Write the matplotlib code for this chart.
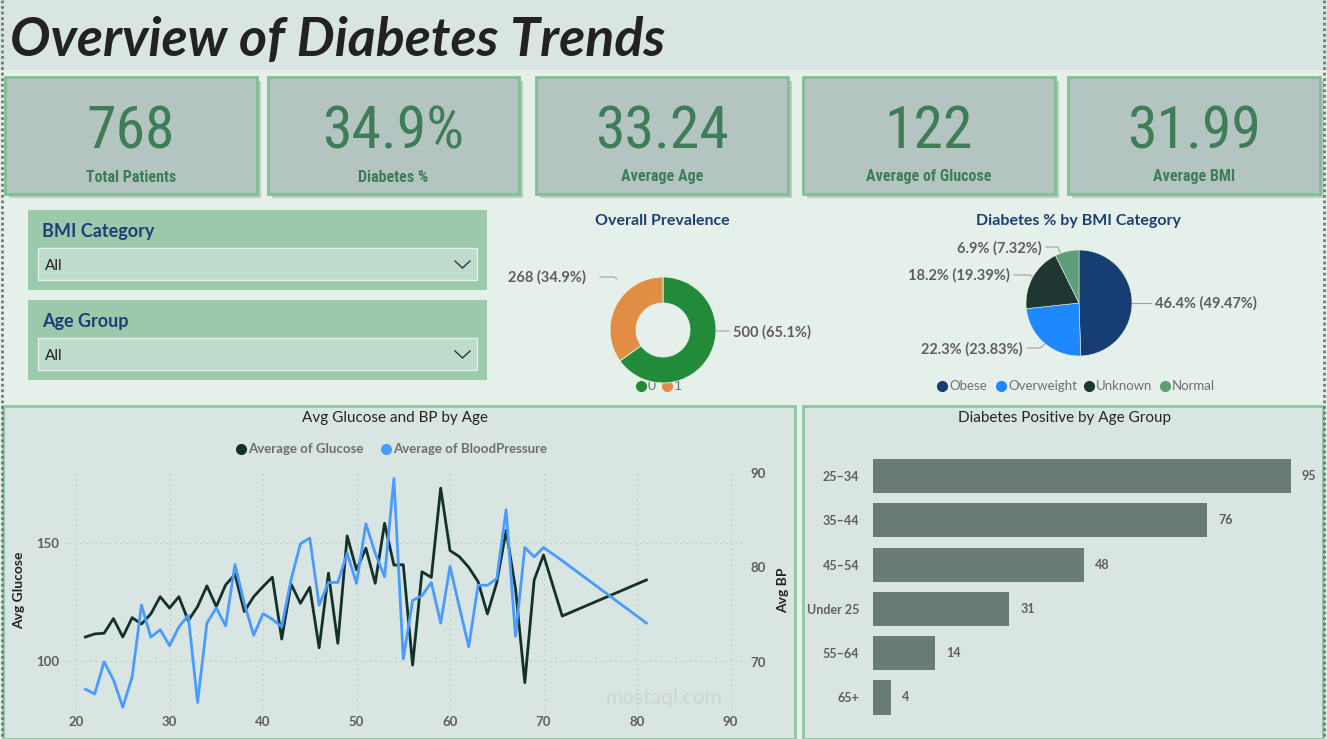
import matplotlib
matplotlib.use("Agg")
import matplotlib.pyplot as plt
from matplotlib import font_manager
from matplotlib.patches import Rectangle

W, H = 1327, 739

# ---- data ----
kpi_values = ["768", "34.9%", "33.24", "122", "31.99"]
kpi_labels = ["Total Patients", "Diabetes %", "Average Age", "Average of Glucose", "Average BMI"]

outcome_labels = ["0", "1"]
outcome_counts = [500, 268]
outcome_texts = ["500 (65.1%)", "268 (34.9%)"]

bmi_cats = ["Obese", "Overweight", "Unknown", "Normal"]
bmi_share = [49.47, 23.83, 19.39, 7.32]
bmi_texts = ["46.4% (49.47%)", "22.3% (23.83%)", "18.2% (19.39%)", "6.9% (7.32%)"]

ages = list(range(21, 71)) + [72, 81]
avg_glucose = [110.2, 111.5, 111.8, 118.0, 110.2, 118.4, 115.7, 120.0, 127.3, 122.5,
               127.3, 117.1, 123.1, 131.9, 123.1, 132.3, 136.8, 121.0, 127.3, 131.6,
               135.6, 109.3, 132.7, 124.5, 131.3, 105.6, 137.3, 107.5, 153.1, 138.7,
               147.9, 133.0, 158.5, 140.7, 140.9, 98.3, 137.9, 135.5, 173.4, 146.9,
               144.3, 139.8, 133.7, 120.0, 133.3, 155.4, 130.9, 90.8, 134.4, 145.0,
               119.1, 134.4]
avg_bp = [67.1, 66.6, 70.0, 68.1, 65.2, 68.4, 76.0, 72.6, 73.4, 71.7,
          73.7, 74.9, 65.7, 74.1, 75.7, 73.8, 80.3, 76.2, 72.8, 75.1,
          74.5, 73.7, 78.7, 82.5, 83.1, 76.0, 78.4, 78.4, 81.5, 78.3,
          84.6, 81.5, 79.0, 89.4, 70.3, 76.5, 77.0, 78.4, 74.1, 80.1,
          75.8, 71.6, 78.1, 78.1, 78.8, 86.1, 72.7, 82.1, 81.1, 82.1,
          80.7, 74.1]

age_groups = ["25\u201334", "35\u201344", "45\u201354", "Under 25", "55\u201364", "65+"]
positives = [95, 76, 48, 31, 14, 4]

# ---- fonts / colours ----
installed = {f.name for f in font_manager.fontManager.ttflist}
def pick(*names):
    for n in names:
        if n in installed:
            return n
    return "DejaVu Sans"

NARROW = pick("Liberation Sans Narrow", "Roboto Condensed", "DejaVu Sans Condensed", "Roboto")
UI = pick("Lato", "Open Sans", "Noto Sans")
TITLE = pick("Lato", "Open Sans")

GREEN_TXT = "#3E7D57"
NAVY = "#1C3F78"
GREY_TXT = "#605E5C"
CARD = "#B4C4C0"
CARD_EDGE = "#7FBF91"
PANEL = "#D9E5E2"

def box(l, t, r, b):
    return [l / W, 1 - b / H, (r - l) / W, (b - t) / H]

fig = plt.figure(figsize=(W / 100, H / 100), dpi=100)
fig.patch.set_facecolor("#E6F0EA")

ov = fig.add_axes([0, 0, 1, 1], zorder=0)
ov.set_xlim(0, W)
ov.set_ylim(H, 0)
ov.axis("off")

# title band
ov.add_patch(Rectangle((0, 0), W, 70, color=PANEL, lw=0))
ov.text(10, 41, "Overview of Diabetes Trends", fontsize=38.7, fontweight="bold",
        style="italic", family=TITLE, color="#222222", va="center", ha="left")

# KPI cards
card_x = [(5, 257), (268, 519), (536, 788), (803, 1055), (1068, 1320)]
for (l, r), v, lab in zip(card_x, kpi_values, kpi_labels):
    ov.add_patch(Rectangle((l + 4, 81), r - l, 117, color="#9FB1AC", alpha=0.6, lw=0))
    ov.add_patch(Rectangle((l, 77), r - l, 117, facecolor=CARD, edgecolor=CARD_EDGE, lw=2))
    cx = (l + r) / 2
    ov.text(cx, 132, v, fontsize=43, family=NARROW, color=GREEN_TXT, ha="center", va="center")
    ov.text(cx, 177, lab, fontsize=11.5, family=NARROW, fontweight="bold", color=GREEN_TXT,
            ha="center", va="center")

# slicers
for top, name in [(210, "BMI Category"), (300, "Age Group")]:
    ov.add_patch(Rectangle((28, top), 459, 80, color="#9CC8AB", lw=0))
    ov.text(42, top + 21, name, fontsize=13, fontweight="bold", family=UI, color=NAVY, va="center")
    ov.add_patch(Rectangle((38, top + 38), 439, 32, facecolor="#BEDBCB", edgecolor="#E2EEE7", lw=1))
    ov.text(45, top + 56, "All", fontsize=11, family=UI, color="#222222", va="center")
    ov.plot([455, 462.5, 470], [top + 51, top + 58, top + 51], color="#333333", lw=1)

# donut: overall prevalence
ov.text(662, 221, "Overall Prevalence", fontsize=11.5, fontweight="bold", family=UI,
        color=NAVY, ha="center", va="center")
ax_d = fig.add_axes(box(610, 277, 716, 383), zorder=1)
ax_d.pie(outcome_counts, colors=["#228B3A", "#E18E44"], startangle=90, counterclock=False,
         radius=1, wedgeprops=dict(width=0.49, edgecolor="#E6F0EA", linewidth=0.6))
ax_d.set_xlim(-1, 1)
ax_d.set_ylim(-1, 1)
ax_d.set_aspect("equal")
ax_d.axis("off")
ov.text(508, 277, outcome_texts[1], fontsize=10.5, fontweight="bold", family=UI,
        color=GREY_TXT, ha="left", va="center")
ov.plot([600, 614, 617], [277, 277, 279], color="#A0A0A0", lw=0.8)
ov.text(733, 332, outcome_texts[0], fontsize=10.5, fontweight="bold", family=UI,
        color=GREY_TXT, ha="left", va="center")
ov.plot([711, 718, 729], [328, 331, 331], color="#A0A0A0", lw=0.8)
for x0, c, lab in [(641, "#228B3A", outcome_labels[0]), (667, "#E18E44", outcome_labels[1])]:
    ov.plot([x0], [386], "o", ms=7, color=c)
    ov.text(x0 + 7, 386, lab, fontsize=10, family=UI, color="#707070", va="center")

# pie: BMI category
ov.text(1079, 221, "Diabetes % by BMI Category", fontsize=11.5, fontweight="bold", family=UI,
        color=NAVY, ha="center", va="center")
bmi_colors = ["#163E73", "#1E88FF", "#1F3732", "#5E9E78"]
ax_p = fig.add_axes(box(1026, 250, 1132, 356), zorder=1)
ax_p.pie(bmi_share, colors=bmi_colors, startangle=90, counterclock=False, radius=1,
         wedgeprops=dict(edgecolor="#E6F0EA", linewidth=0.4))
ax_p.set_xlim(-1, 1)
ax_p.set_ylim(-1, 1)
ax_p.set_aspect("equal")
ax_p.axis("off")
lab_pos = [(1155, 303, "left"), (1023, 349, "right"), (1010, 275, "right"), (1042, 248, "right")]
for (x0, y0, ha), t in zip(lab_pos, bmi_texts):
    ov.text(x0, y0, t, fontsize=10.5, fontweight="bold", family=UI, color=GREY_TXT,
            ha=ha, va="center")
ov.plot([1132, 1151], [303, 303], color="#A0A0A0", lw=0.8)
ov.plot([1027, 1040, 1046], [348, 348, 343], color="#A0A0A0", lw=0.8)
ov.plot([1014, 1030, 1035], [275, 275, 279], color="#A0A0A0", lw=0.8)
ov.plot([1046, 1058, 1060], [247, 247, 252], color="#A0A0A0", lw=0.8)
leg_x = [942, 1001, 1089, 1165]
for x0, c, lab in zip(leg_x, bmi_colors, bmi_cats):
    ov.plot([x0], [386], "o", ms=7, color=c)
    ov.text(x0 + 7, 386, lab, fontsize=9.5, family=UI, color="#707070", va="center")

# bottom panels
ov.add_patch(Rectangle((3, 406), 792, 333, facecolor=PANEL, edgecolor="#8DC6A1", lw=2))
ov.add_patch(Rectangle((803, 406), 520, 333, facecolor=PANEL, edgecolor="#8DC6A1", lw=2))

# outer dotted frame
ov.plot([2, 2], [0, H], color="#777777", lw=2, ls=(0, (1, 1)))
ov.plot([1324, 1324], [0, H], color="#777777", lw=2, ls=(0, (1, 1)))

# ---- line chart ----
ov.text(395, 418, "Avg Glucose and BP by Age", fontsize=11, family=UI, color="#252423",
        ha="center", va="center")
ov.plot([241], [449], "o", ms=7, color="#13302A")
ov.text(248, 449, "Average of Glucose", fontsize=9.5, fontweight="bold", family=UI,
        color="#6E6E6E", va="center")
ov.plot([386], [449], "o", ms=7, color="#4A9BFF")
ov.text(393, 449, "Average of BloodPressure", fontsize=9.5, fontweight="bold", family=UI,
        color="#6E6E6E", va="center")

ax_l = fig.add_axes(box(65, 470, 742, 710), zorder=1)
ax_l.patch.set_alpha(0)
ax_l.plot(ages, avg_glucose, color="#13302A", lw=2.0, zorder=3)
ax_l.set_xlim(18.82, 91.23)
ax_l.set_ylim(79.2, 181.1)
ax_l.set_xticks(range(20, 91, 10))
ax_l.set_yticks([100, 150])
ax_l.grid(True, color="#B8C4C1", ls=(0, (1, 3)), lw=0.9)
for s in ax_l.spines.values():
    s.set_visible(False)
ax_l.tick_params(length=0, labelsize=9.5, labelcolor=GREY_TXT, pad=4)
for t in ax_l.get_xticklabels() + ax_l.get_yticklabels():
    t.set_fontweight("bold")
    t.set_family(UI)
ax_l.set_ylabel("Avg Glucose", fontsize=10, fontweight="bold", family=UI, color="#252423", labelpad=8)

ax_r = ax_l.twinx()
ax_r.plot(ages, avg_bp, color="#4A9BFF", lw=2.0, zorder=3)
ax_r.set_ylim(64.9, 90.3)
ax_r.set_yticks([70, 80, 90])
for s in ax_r.spines.values():
    s.set_visible(False)
ax_r.tick_params(length=0, labelsize=9.5, labelcolor=GREY_TXT, pad=6)
for t in ax_r.get_yticklabels():
    t.set_fontweight("bold")
    t.set_family(UI)
ax_r.set_ylabel("Avg BP", fontsize=10, fontweight="bold", family=UI, color="#252423", labelpad=8)

# watermark
ov.text(664, 698, "mostaql.com", fontsize=15, family=UI, color="#C9D3D0", ha="center",
        va="center", zorder=5, alpha=0.8)

# ---- bar chart ----
ov.text(1065, 418, "Diabetes Positive by Age Group", fontsize=11, family=UI, color="#252423",
        ha="center", va="center")
ax_b = fig.add_axes(box(873, 453.9, 1315, 719.6), zorder=1)
ax_b.patch.set_alpha(0)
yy = list(range(len(age_groups)))
bars = ax_b.barh(yy, positives, height=0.77, color="#6B7B78")
ax_b.set_xlim(0, 100.5)
ax_b.set_ylim(len(age_groups) - 0.5, -0.5)
ax_b.set_yticks(yy)
ax_b.set_yticklabels(age_groups)
ax_b.set_xticks([])
for s in ax_b.spines.values():
    s.set_visible(False)
ax_b.tick_params(length=0, labelsize=9, labelcolor=GREY_TXT, pad=10)
for t in ax_b.get_yticklabels():
    t.set_fontweight("bold")
    t.set_family(UI)
for rect, v in zip(bars, positives):
    ax_b.annotate(str(v), (rect.get_width(), rect.get_y() + rect.get_height() / 2),
                  xytext=(8, 0), textcoords="offset points", fontsize=9, fontweight="bold",
                  family=UI, color=GREY_TXT, va="center", ha="left")

fig.savefig("out.png", dpi=100, facecolor=fig.get_facecolor())
